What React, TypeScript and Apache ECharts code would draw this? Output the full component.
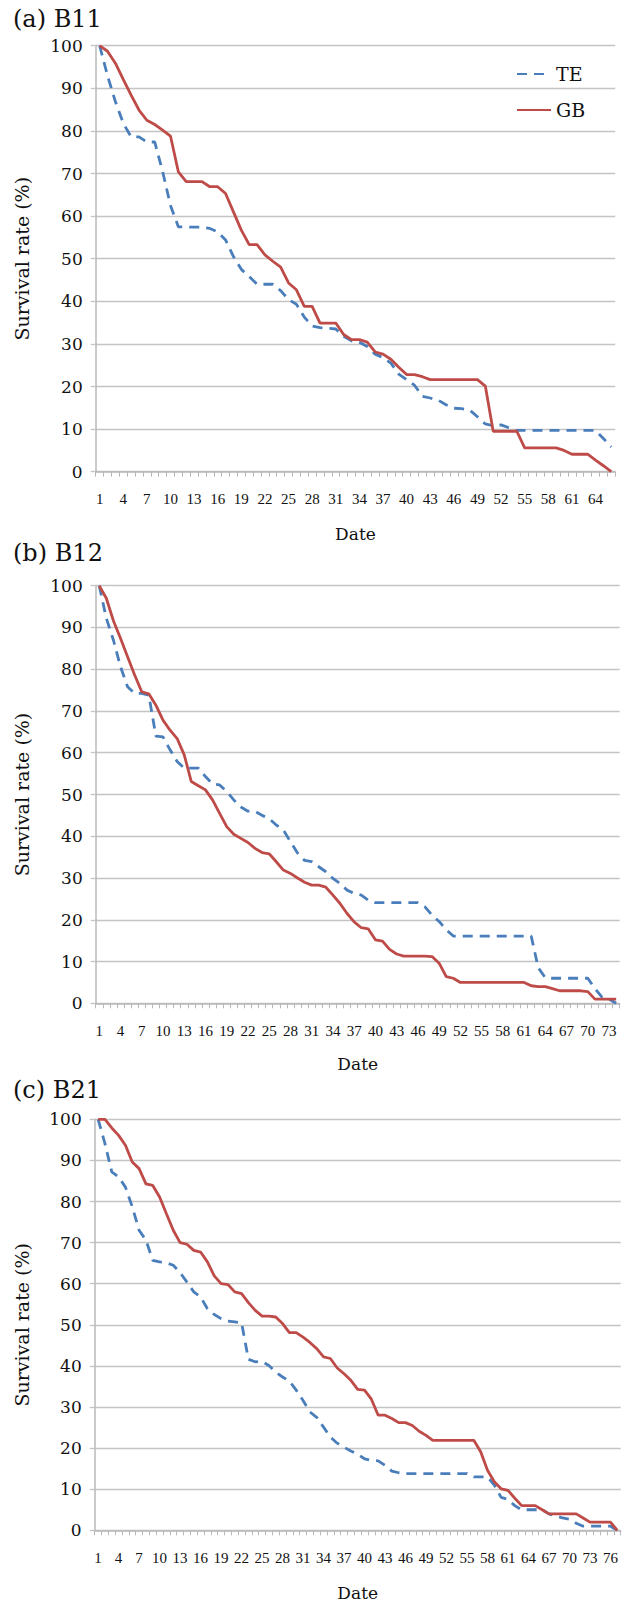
import React, { useEffect, useRef } from "react";
import * as echarts from "echarts";

// ---------- data ----------
const DAYS_A: string[] = Array.from({ length: 66 }, (_, i) => String(i + 1));
const DAYS_B: string[] = Array.from({ length: 74 }, (_, i) => String(i + 1));
const DAYS_C: string[] = Array.from({ length: 77 }, (_, i) => String(i + 1));

const Y_TICKS = [0, 10, 20, 30, 40, 50, 60, 70, 80, 90, 100];

// (a) B11
const TE_A = [
  100, 93, 86.9, 81.8, 78.6, 78.6, 77.4, 77.4, 70.5, 62.5, 57.5, 57.4, 57.4, 57.4, 57.1, 56.3, 54.4, 50.5,
  47.5, 45.8, 44.0, 44.0, 44.0, 42.5, 40.4, 39.3, 36.3, 34.2, 33.8, 33.7, 33.5, 31.8, 30.7, 30.4, 29.4, 27.6,
  26.8, 25.5, 22.9, 21.6, 20.3, 17.7, 17.3, 16.8, 15.7, 14.9, 14.8, 14.5, 12.9, 11.2, 10.8, 11.0, 10.3, 9.7,
  9.7, 9.7, 9.7, 9.7, 9.7, 9.7, 9.7, 9.7, 9.7, 9.7, 7.8, 5.8,
];
const GB_A = [
  100, 98.7, 95.9, 92.1, 88.4, 84.9, 82.5, 81.5, 80.2, 78.8, 70.4, 68.1, 68.1, 68.1, 66.9, 66.9, 65.3, 61.0,
  56.7, 53.3, 53.3, 50.9, 49.4, 48.0, 44.3, 42.7, 38.8, 38.8, 34.9, 34.9, 34.9, 32.2, 31.0, 31.0, 30.4, 28.1,
  27.6, 26.4, 24.5, 22.8, 22.8, 22.3, 21.6, 21.6, 21.6, 21.6, 21.6, 21.6, 21.6, 20.1, 9.5, 9.5, 9.5, 9.5,
  5.6, 5.6, 5.6, 5.6, 5.6, 5.0, 4.1, 4.1, 4.1, 2.7, 1.4, 0,
];

// (b) B12
const TE_B = [
  100, 92.2, 87, 80.6, 75.8, 74.2, 74.2, 73.8, 64.0, 63.8, 60.7, 57.9, 56.3, 56.3, 56.3, 54.3, 52.5, 52.3,
  50.7, 48.7, 47, 46, 46, 45, 44.2, 42.7, 41.5, 38.7, 36.0, 34.2, 33.9, 32.7, 31.5, 29.9, 28.7, 27.1,
  26.3, 25.9, 24.7, 24.1, 24.1, 24.1, 24.1, 24.1, 24.1, 24.1, 23.1, 21.1, 19.6, 17.6, 16.1, 16.1, 16.1, 16.1,
  16.1, 16.1, 16.1, 16.1, 16.1, 16.1, 16.1, 16.1, 8.5, 6.1, 6.0, 6.0, 6.0, 6.0, 6.0, 6.0, 3.5, 1.5, 1.0, 0,
];
const GB_B = [
  100, 97.0, 91.6, 87.4, 83.0, 78.6, 74.6, 74.1, 71.4, 67.8, 65.4, 63.4, 59.5, 53.1, 52.1, 51.1, 48.7, 45.5,
  42.3, 40.5, 39.5, 38.5, 37.1, 36.1, 35.8, 33.9, 31.9, 31.1, 30.0, 29.0, 28.3, 28.3, 27.8, 25.9, 23.9, 21.5,
  19.5, 18.1, 17.8, 15.2, 14.9, 12.9, 11.8, 11.3, 11.3, 11.3, 11.3, 11.2, 9.6, 6.4, 6.0, 5.0, 5.0, 5.0,
  5.0, 5.0, 5.0, 5.0, 5.0, 5.0, 5.0, 4.2, 4.0, 4.0, 3.5, 3.0, 3.0, 3.0, 3.0, 2.8, 1.0, 1.0, 1.0, 1.0,
];

// (c) B21
const TE_C = [
  100, 94.1, 87.2, 86.0, 83.5, 78.7, 73.0, 70.6, 65.7, 65.3, 65.1, 64.5, 62.7, 60.4, 58.0, 56.8, 53.9, 52.5,
  51.5, 50.9, 50.7, 50.5, 41.6, 41.0, 41.1, 40.1, 38.5, 37.3, 36.3, 34.1, 31.6, 28.8, 27.5, 25.1, 22.7, 21.2,
  20.2, 19.3, 18.5, 17.4, 17.0, 16.9, 15.8, 14.4, 14.0, 13.8, 13.8, 13.8, 13.8, 13.8, 13.8, 13.8, 13.8, 13.8,
  13.8, 13.0, 13.0, 13.0, 11.0, 8.0, 7.5, 6.0, 5.0, 5.0, 5.0, 5.0, 4.0, 3.5, 3.0, 2.7, 1.7, 1.0, 1.0, 1.0,
  1.0, 1.0, 0,
];
const GB_C = [
  100, 100, 97.9, 96.1, 93.7, 89.6, 88.0, 84.3, 83.9, 81.1, 77.0, 73.0, 70.0, 69.6, 68.1, 67.7, 65.3, 61.9,
  60.0, 59.8, 58.0, 57.6, 55.4, 53.5, 52.1, 52.1, 51.9, 50.3, 48.1, 48.1, 47.0, 45.7, 44.2, 42.2, 41.8, 39.5,
  38.1, 36.5, 34.3, 34.1, 31.9, 28.0, 28.0, 27.2, 26.2, 26.2, 25.5, 24.1, 23.1, 21.9, 21.9, 21.9, 21.9, 21.9,
  21.9, 21.9, 19.1, 14.6, 11.8, 10.1, 9.7, 7.8, 6.0, 6.0, 6.0, 5.0, 4.0, 4.0, 4.0, 4.0, 4.0, 3.0, 2.0, 2.0,
  2.0, 2.0, 0,
];

const PANEL_TITLES = ["(a) B11", "(b) B12", "(c) B21"];
const SERIES_NAMES = ["TE", "GB"];
const X_NAME = "Date";
const Y_NAME = "Survival rate (%)";

// ---------- styling ----------
const SERIF = '"DejaVu Serif", "Liberation Serif", serif';
const TICK_FONT = '"Liberation Serif", "DejaVu Serif", serif';
const BLUE = "#4a7ebb";
const RED = "#be4b48";
const GRID_COLOR = "#c4c4c4";

const PANELS = [
  { cats: DAYS_A, te: TE_A, gb: GB_A, left: 95.7, top: 45.7, width: 519.5, height: 426, titleY: 21, dateY: 534 },
  { cats: DAYS_B, te: TE_B, gb: GB_B, left: 95.7, top: 585.7, width: 524, height: 417.6, titleY: 555, dateY: 1064 },
  { cats: DAYS_C, te: TE_C, gb: GB_C, left: 94.7, top: 1119.3, width: 526, height: 411, titleY: 1092, dateY: 1593 },
];

export default function App() {
  const ref = useRef<HTMLDivElement>(null);

  useEffect(() => {
    document.body.style.margin = "0";
    if (!ref.current) return;
    const chart = echarts.init(ref.current, undefined, { renderer: "svg" });

    const grids: any[] = [];
    const xAxes: any[] = [];
    const yAxes: any[] = [];
    const series: any[] = [];
    const graphics: any[] = [];

    PANELS.forEach((p, k) => {
      grids.push({ left: p.left, top: p.top, width: p.width, height: p.height, containLabel: false });
      xAxes.push({
        type: "category",
        gridIndex: k,
        data: p.cats,
        boundaryGap: true,
        axisLine: { show: true, lineStyle: { color: "#b8b8b8", width: 1.5 } },
        axisTick: { show: true, interval: 0, length: 5, lineStyle: { color: "#b8b8b8", width: 1 } },
        axisLabel: {
          interval: 2,
          margin: 20,
          color: "#111",
          fontFamily: TICK_FONT,
          fontSize: 15,
        },
        splitLine: { show: false },
      });
      yAxes.push({
        type: "value",
        gridIndex: k,
        min: 0,
        max: 100,
        interval: 10,
        axisLine: { show: true, lineStyle: { color: "#b8b8b8", width: 1.5 } },
        axisTick: { show: true, length: 5, lineStyle: { color: GRID_COLOR, width: 1.3 } },
        axisLabel: {
          margin: 13,
          color: "#111",
          fontFamily: SERIF,
          fontSize: 17,
          formatter: (v: number) => (Y_TICKS.includes(v) ? String(v) : ""),
        },
        splitLine: { show: true, lineStyle: { color: GRID_COLOR, width: 1.4 } },
      });
      series.push({
        name: SERIES_NAMES[0],
        type: "line",
        xAxisIndex: k,
        yAxisIndex: k,
        data: p.te,
        symbol: "none",
        showSymbol: false,
        lineStyle: { color: BLUE, width: 2.8, type: [10, 7] },
        itemStyle: { color: BLUE },
        z: 3,
      });
      series.push({
        name: SERIES_NAMES[1],
        type: "line",
        xAxisIndex: k,
        yAxisIndex: k,
        data: p.gb,
        symbol: "none",
        showSymbol: false,
        lineStyle: { color: RED, width: 2.8 },
        itemStyle: { color: RED },
        z: 4,
      });

      graphics.push({
        type: "text",
        left: 13,
        top: p.titleY - 14,
        style: { text: PANEL_TITLES[k], font: `24px ${SERIF}`, fill: "#111" },
      });
      graphics.push({
        type: "text",
        x: p.left + p.width / 2,
        y: p.dateY,
        style: { text: X_NAME, font: `17px ${SERIF}`, fill: "#111", align: "center", verticalAlign: "middle" },
      });
      graphics.push({
        type: "text",
        x: 22,
        y: p.top + p.height / 2,
        rotation: Math.PI / 2,
        style: { text: Y_NAME, font: `19px ${SERIF}`, fill: "#111", align: "center", verticalAlign: "middle" },
      });
    });

    chart.setOption({
      animation: false,
      backgroundColor: "#ffffff",
      grid: grids,
      xAxis: xAxes,
      yAxis: yAxes,
      series,
      legend: {
        data: SERIES_NAMES,
        orient: "vertical",
        left: 511,
        top: 59,
        itemWidth: 34,
        itemHeight: 14,
        itemGap: 16,
        itemStyle: { opacity: 0 },
        textStyle: { fontFamily: SERIF, fontSize: 19, color: "#111", lineHeight: 20 },
      },
      graphic: graphics,
    });

    return () => chart.dispose();
  }, []);

  return <div ref={ref} style={{ width: 627, height: 1604 }} />;
}
